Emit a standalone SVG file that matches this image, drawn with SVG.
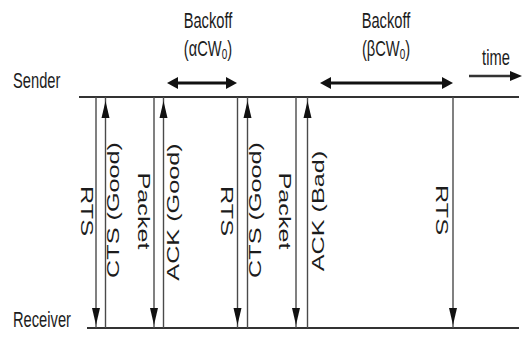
<svg xmlns="http://www.w3.org/2000/svg" width="522" height="338" viewBox="0 0 522 338">
<style>
text{font-family:"Liberation Sans",Arial,sans-serif;fill:#1c1c1c}
.h{font-size:14.7px}
.v{font-size:16.5px}
.axis{stroke:#333;stroke-width:2;fill:none}
.msg{stroke:#4a4a4a;stroke-width:1.4;fill:none}
.head{fill:#111}
.bo{stroke:#111;stroke-width:3;fill:none}
.tm{stroke:#333;stroke-width:2.5;fill:none}
</style>
<rect width="522" height="338" fill="#fff"/>
<g id="sender">
<line class="axis" x1="79" y1="97" x2="519" y2="97"/>
<text class="h" transform="translate(13,88) scale(1,1.5)">Sender</text>
</g>
<g id="receiver">
<line class="axis" x1="87" y1="328" x2="519" y2="328"/>
<text class="h" transform="translate(13,327) scale(1,1.5)">Receiver</text>
</g>
<g id="backoff1">
<line class="bo" x1="176" y1="83" x2="228" y2="83"/>
<polygon class="head" points="167,83 178,77 178,89"/>
<polygon class="head" points="237,83 226,77 226,89"/>
<text class="h" text-anchor="middle" transform="translate(208,28) scale(1,1.5)">Backoff</text>
<text class="h" text-anchor="middle" transform="translate(208,56) scale(1,1.5)">(αCW<tspan font-size="10" dy="2">0</tspan><tspan dy="-2">)</tspan></text>
</g>
<g id="backoff2">
<line class="bo" x1="329" y1="83" x2="444" y2="83"/>
<polygon class="head" points="320,83 331,77 331,89"/>
<polygon class="head" points="453,83 442,77 442,89"/>
<text class="h" text-anchor="middle" transform="translate(386,28) scale(1,1.5)">Backoff</text>
<text class="h" text-anchor="middle" transform="translate(386,56) scale(1,1.5)">(βCW<tspan font-size="10" dy="2">0</tspan><tspan dy="-2">)</tspan></text>
</g>
<g id="time">
<line class="tm" x1="469" y1="76" x2="512" y2="76"/>
<polygon class="head" points="522,76 510,71 510,81"/>
<text class="h" text-anchor="middle" transform="translate(496,65) scale(1,1.5)">time</text>
</g>
<g id="connectors">
<g id="rts1">
<line class="msg" x1="96" y1="97" x2="96" y2="328"/>
<polygon class="head" points="92,308 100,308 96,325"/>
<text class="v" text-anchor="middle" transform="translate(81,211) rotate(90) scale(1.53,1)">RTS</text>
</g>
<g id="cts1">
<line class="msg" x1="105.5" y1="97" x2="105.5" y2="328"/>
<polygon class="head" points="101.5,118 109.5,118 105.5,101"/>
<text class="v" text-anchor="middle" transform="translate(119,210) rotate(-90) scale(1.53,1)">CTS (Good)</text>
</g>
<g id="packet1">
<line class="msg" x1="154" y1="97" x2="154" y2="328"/>
<polygon class="head" points="150,308 158,308 154,325"/>
<text class="v" text-anchor="middle" transform="translate(138,211) rotate(90) scale(1.53,1)">Packet</text>
</g>
<g id="ack1">
<line class="msg" x1="163.5" y1="97" x2="163.5" y2="328"/>
<polygon class="head" points="159.5,118 167.5,118 163.5,101"/>
<text class="v" text-anchor="middle" transform="translate(179,212) rotate(-90) scale(1.53,1)">ACK (Good)</text>
</g>
<g id="rts2">
<line class="msg" x1="237.5" y1="97" x2="237.5" y2="328"/>
<polygon class="head" points="233.5,308 241.5,308 237.5,325"/>
<text class="v" text-anchor="middle" transform="translate(221,211) rotate(90) scale(1.53,1)">RTS</text>
</g>
<g id="cts2">
<line class="msg" x1="247.5" y1="97" x2="247.5" y2="328"/>
<polygon class="head" points="243.5,118 251.5,118 247.5,101"/>
<text class="v" text-anchor="middle" transform="translate(261,210) rotate(-90) scale(1.53,1)">CTS (Good)</text>
</g>
<g id="packet2">
<line class="msg" x1="296" y1="97" x2="296" y2="328"/>
<polygon class="head" points="292,308 300,308 296,325"/>
<text class="v" text-anchor="middle" transform="translate(279,211) rotate(90) scale(1.53,1)">Packet</text>
</g>
<g id="ack2">
<line class="msg" x1="307.5" y1="97" x2="307.5" y2="328"/>
<polygon class="head" points="303.5,118 311.5,118 307.5,101"/>
<text class="v" text-anchor="middle" transform="translate(324,211) rotate(-90) scale(1.53,1)">ACK (Bad)</text>
</g>
<g id="rts3">
<line class="msg" x1="453" y1="97" x2="453" y2="328"/>
<polygon class="head" points="449,308 457,308 453,325"/>
<text class="v" text-anchor="middle" transform="translate(436,210) rotate(90) scale(1.53,1)">RTS</text>
</g>
</g>
</svg>
